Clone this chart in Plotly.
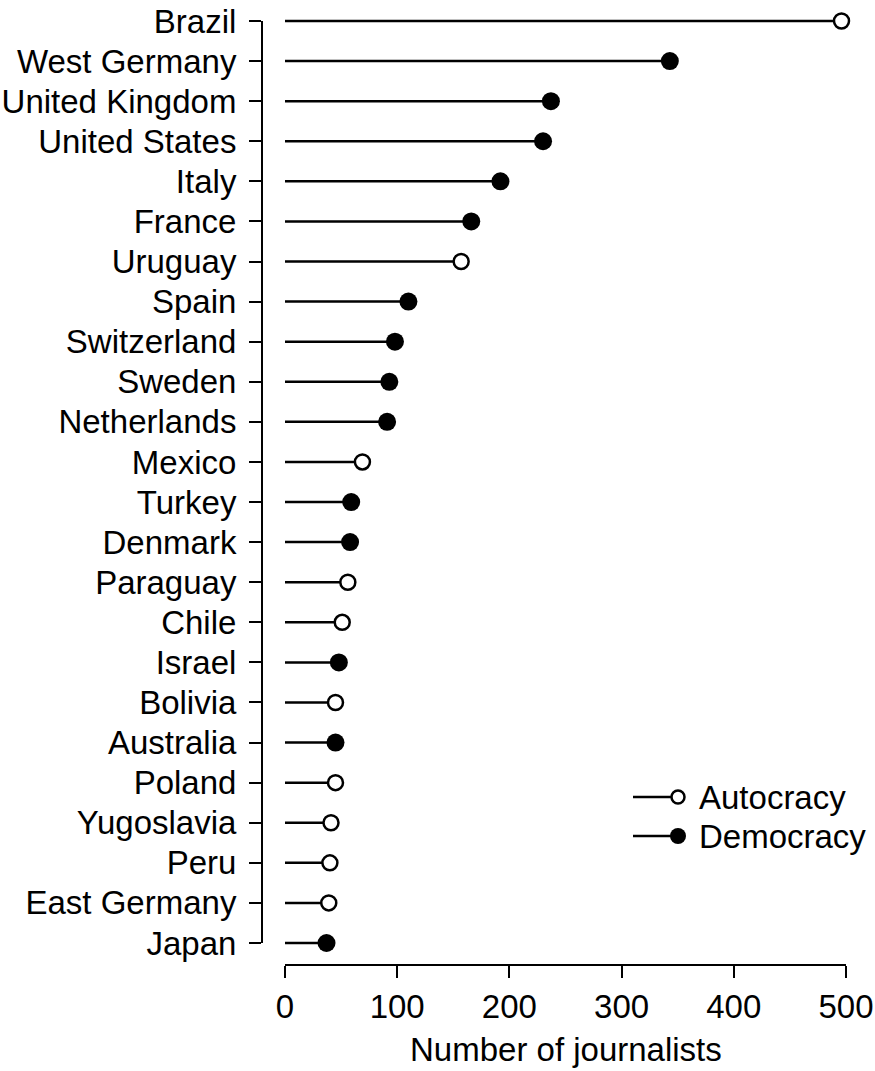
import plotly.graph_objects as go

countries = ["Brazil", "West Germany", "United Kingdom", "United States", "Italy",
             "France", "Uruguay", "Spain", "Switzerland", "Sweden", "Netherlands",
             "Mexico", "Turkey", "Denmark", "Paraguay", "Chile", "Israel", "Bolivia",
             "Australia", "Poland", "Yugoslavia", "Peru", "East Germany", "Japan"]
journalists = [496, 343, 237, 230, 192, 166, 157, 110, 98, 93, 91, 69, 59, 58,
               56, 51, 48, 45, 45, 45, 41, 40, 39, 37]
regime = ["Autocracy", "Democracy", "Democracy", "Democracy", "Democracy",
          "Democracy", "Autocracy", "Democracy", "Democracy", "Democracy", "Democracy",
          "Autocracy", "Democracy", "Democracy", "Autocracy", "Autocracy", "Democracy",
          "Autocracy", "Democracy", "Autocracy", "Autocracy", "Autocracy", "Autocracy",
          "Democracy"]
x_ticks = [0, 100, 200, 300, 400, 500]

FONT = "Liberation Sans, Arial, sans-serif"
FS = 33

fig = go.Figure()

# stems
lx, ly = [], []
for c, v in zip(countries, journalists):
    lx += [0, v, None]
    ly += [c, c, None]
fig.add_trace(go.Scatter(x=lx, y=ly, mode="lines",
                         line=dict(color="black", width=2.5),
                         hoverinfo="skip", showlegend=False))

# points
for name in ["Autocracy", "Democracy"]:
    xs = [v for v, r in zip(journalists, regime) if r == name]
    ys = [c for c, r in zip(countries, regime) if r == name]
    if name == "Autocracy":
        marker = dict(symbol="circle", size=15, color="white",
                      line=dict(color="black", width=2.5))
    else:
        marker = dict(symbol="circle", size=18, color="black",
                      line=dict(color="black", width=0))
    fig.add_trace(go.Scatter(x=xs, y=ys, mode="markers", marker=marker,
                             name=name, showlegend=False, cliponaxis=False))

shapes = []
# x axis line (0..500)
shapes.append(dict(type="line", xref="x", yref="paper", x0=x_ticks[0], x1=x_ticks[-1],
                   y0=0, y1=0, line=dict(color="black", width=2)))
# y axis line (first..last category)
shapes.append(dict(type="line", xref="paper", yref="y", x0=0, x1=0,
                   y0=countries[0], y1=countries[-1], line=dict(color="black", width=2)))

# manual legend (positions in window pixels, converted to paper)
W, H = 608, 960
def px2paper(px, py):
    return (px - 262) / W, (965 - py) / H

annotations = []
for i, (name, filled) in enumerate([("Autocracy", False), ("Democracy", True)]):
    py = 797 + i * 39
    xa, ya = px2paper(633, py)
    xb, _ = px2paper(671, py)
    xm, _ = px2paper(678, py)
    xt, _ = px2paper(697, py)
    shapes.append(dict(type="line", xref="paper", yref="paper", x0=xa, x1=xb,
                       y0=ya, y1=ya, line=dict(color="black", width=2.5)))
    r = 8 if filled else 6.5
    shapes.append(dict(type="circle", xref="paper", yref="paper",
                       xsizemode="pixel", ysizemode="pixel",
                       xanchor=xm, yanchor=ya, x0=-r, x1=r, y0=-r, y1=r,
                       fillcolor="black" if filled else "white",
                       line=dict(color="black", width=0 if filled else 2.5)))
    annotations.append(dict(xref="paper", yref="paper", x=xt, y=ya, text=name,
                            showarrow=False, xanchor="left", yanchor="middle",
                            font=dict(family=FONT, size=FS, color="black")))

# axis title
annotations.append(dict(xref="x", yref="paper", x=(x_ticks[0] + x_ticks[-1]) / 2,
                        y=(965 - 1049) / H, text="Number of journalists",
                        showarrow=False, xanchor="center", yanchor="middle",
                        font=dict(family=FONT, size=FS, color="black")))

fig.update_layout(
    width=875, height=1071,
    margin=dict(l=262, r=5, t=5, b=106),
    paper_bgcolor="white", plot_bgcolor="white",
    font=dict(family=FONT, size=FS, color="black"),
    showlegend=False,
    shapes=shapes, annotations=annotations,
    xaxis=dict(range=[-20.5, 521.4], tickmode="array", tickvals=x_ticks,
               ticks="outside", ticklen=12, tickwidth=2, tickcolor="black",
               showline=False, showgrid=False, zeroline=False, automargin=False,
               tickfont=dict(family=FONT, size=FS, color="black")),
    yaxis=dict(type="category", categoryorder="array", categoryarray=countries,
               tickmode="array", tickvals=countries, ticktext=countries,
               range=[len(countries) - 1 + 0.549, -0.399], ticks="outside",
               ticklen=12, tickwidth=2, tickcolor="black", showline=False,
               showgrid=False, zeroline=False, ticklabelstandoff=6, automargin=False,
               tickfont=dict(family=FONT, size=FS, color="black")),
)

fig.write_html("out.html", config={"displayModeBar": False},
               post_script="document.body.style.margin='0';document.body.style.overflow='hidden';")
